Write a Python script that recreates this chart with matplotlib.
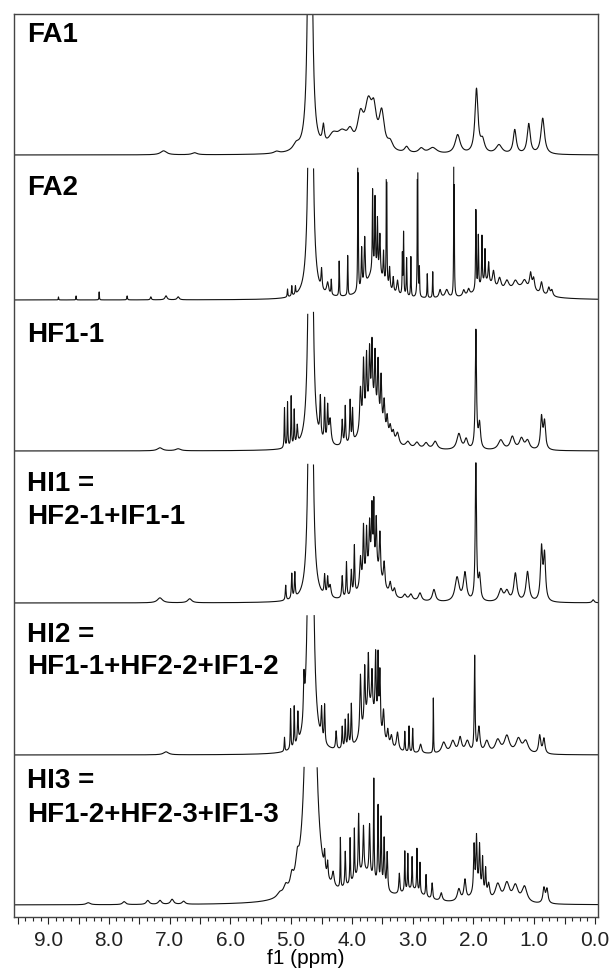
import numpy as np
import matplotlib
matplotlib.use("Agg")
import matplotlib.pyplot as plt
from matplotlib.ticker import MultipleLocator, FuncFormatter

# ---------------- data: peak lists (ppm, height in px, half-width in ppm) ----------------
labels = ["FA1", "FA2", "HF1-1", "HI1 =\nHF2-1+IF1-1",
          "HI2 =\nHF1-1+HF2-2+IF1-2", "HI3 =\nHF1-2+HF2-3+IF1-3"]

fa1_ppm = [7.10, 6.59, 5.24, 4.92, 4.69, 4.47, 4.31, 4.16, 4.03, 3.86, 3.73, 3.64, 3.51, 3.37,
           3.10, 2.86, 2.67, 2.26, 1.95, 1.85, 1.58, 1.32, 1.09, 0.86]
fa1_h = [4, 2, 2, 6, 900, 18, 14, 15, 14, 30, 42, 32, 36, 8,
         6, 5, 6, 19, 64, 12, 9, 24, 30, 36]
fa1_w = [0.06, 0.05, 0.05, 0.06, 0.02, 0.02, 0.10, 0.10, 0.06, 0.06, 0.07, 0.05, 0.05, 0.05,
         0.04, 0.05, 0.08, 0.05, 0.03, 0.04, 0.06, 0.03, 0.03, 0.035]

fa2_ppm = [8.83, 8.54, 8.16, 7.70, 7.31, 7.06, 6.86, 5.06, 4.99, 4.93, 4.68, 4.50, 4.40, 4.34,
           4.21, 4.07, 3.90, 3.84, 3.79, 3.66, 3.62, 3.58, 3.54, 3.48, 3.43, 3.38, 3.32, 3.25,
           3.17, 3.15, 3.10, 3.03, 2.92, 2.89, 2.76, 2.67, 2.55, 2.44, 2.32, 2.16, 2.08, 1.96,
           1.92, 1.86, 1.81, 1.75, 1.67, 1.57, 1.45, 1.31, 1.16, 1.06, 1.01, 0.88, 0.76, 0.71,
           3.62, 1.80, 1.20]
fa2_h = [3, 4, 8, 4, 3, 4, 3, 8, 10, 8, 900, 20, 12, 15,
         35, 40, 400, 40, 48, 80, 70, 50, 40, 30, 400, 22, 15, 14,
         40, 62, 38, 40, 400, 28, 24, 26, 8, 8, 400, 6, 6, 80,
         52, 48, 32, 20, 16, 12, 10, 8, 8, 16, 12, 12, 8, 6,
         30, 15, 10]
fa2_w = [0.004, 0.004, 0.004, 0.006, 0.01, 0.02, 0.02, 0.006, 0.006, 0.006, 0.02, 0.01, 0.02, 0.006,
         0.005, 0.005, 0.003, 0.008, 0.01, 0.006, 0.006, 0.006, 0.01, 0.008, 0.003, 0.01, 0.01, 0.015,
         0.005, 0.005, 0.006, 0.005, 0.003, 0.005, 0.005, 0.005, 0.02, 0.03, 0.003, 0.02, 0.02, 0.006,
         0.006, 0.006, 0.006, 0.01, 0.02, 0.03, 0.04, 0.04, 0.04, 0.02, 0.02, 0.02, 0.02, 0.02,
         0.15, 0.15, 0.30]

hf11_ppm = [7.16, 6.86, 5.11, 5.06, 5.00, 4.95, 4.90, 4.68, 4.52, 4.45, 4.40, 4.36, 4.16, 4.11,
            4.03, 3.99, 3.86, 3.81, 3.76, 3.71, 3.67, 3.62, 3.57, 3.52, 3.47, 3.42, 3.37, 3.32,
            3.25, 3.08, 2.93, 2.78, 2.63, 2.24, 2.12, 1.96, 1.90, 1.55, 1.36, 1.21, 1.11, 0.88, 0.83,
            3.68]
hf11_h = [3, 2, 40, 45, 50, 35, 18, 900, 40, 42, 35, 25, 25, 38,
          42, 32, 42, 62, 58, 55, 60, 56, 58, 50, 32, 20, 14, 10,
          12, 6, 6, 6, 8, 16, 10, 118, 25, 10, 13, 11, 9, 32, 27,
          45]
hf11_w = [0.05, 0.05, 0.006, 0.006, 0.006, 0.006, 0.01, 0.02, 0.01, 0.008, 0.01, 0.02, 0.01, 0.008,
          0.008, 0.008, 0.015, 0.012, 0.01, 0.01, 0.01, 0.01, 0.012, 0.012, 0.015, 0.015, 0.02, 0.02,
          0.03, 0.04, 0.04, 0.04, 0.04, 0.04, 0.03, 0.012, 0.02, 0.05, 0.04, 0.04, 0.04, 0.02, 0.02,
          0.14]

hi1_ppm = [7.16, 6.67, 5.09, 4.99, 4.94, 4.68, 4.45, 4.40, 4.36, 4.16, 4.09, 4.01, 3.96, 3.86,
           3.81, 3.76, 3.71, 3.67, 3.64, 3.60, 3.54, 3.47, 3.37, 3.30, 3.13, 3.03, 2.88, 2.65,
           2.27, 2.14, 1.96, 1.90, 1.55, 1.45, 1.31, 1.11, 0.88, 0.83, 0.03,
           3.66]
hi1_h = [5, 4, 15, 25, 25, 900, 20, 18, 12, 22, 35, 25, 48, 30,
         55, 45, 42, 55, 56, 48, 45, 25, 12, 8, 5, 6, 8, 12,
         24, 28, 140, 24, 12, 10, 28, 30, 52, 45, 3,
         40]
hi1_w = [0.05, 0.04, 0.008, 0.008, 0.008, 0.02, 0.01, 0.01, 0.02, 0.01, 0.008, 0.01, 0.008, 0.015,
         0.01, 0.01, 0.01, 0.01, 0.006, 0.01, 0.012, 0.015, 0.02, 0.02, 0.03, 0.03, 0.03, 0.03,
         0.04, 0.03, 0.012, 0.02, 0.04, 0.04, 0.03, 0.03, 0.02, 0.02, 0.02,
         0.14]

hi2_ppm = [7.06, 5.11, 5.01, 4.95, 4.89, 4.79, 4.68, 4.50, 4.45, 4.26, 4.16, 4.11, 4.06, 4.01,
           3.86, 3.79, 3.73, 3.67, 3.61, 3.57, 3.54, 3.48, 3.41, 3.35, 3.25, 3.13, 3.06, 3.00,
           2.87, 2.66, 2.49, 2.34, 2.22, 2.10, 1.98, 1.91, 1.78, 1.60, 1.45, 1.26, 1.14, 0.91, 0.84,
           3.70]
hi2_h = [3, 14, 40, 40, 30, 40, 900, 30, 38, 18, 22, 28, 32, 42,
         60, 55, 55, 38, 68, 70, 60, 30, 15, 12, 18, 20, 26, 24,
         9, 55, 11, 12, 15, 12, 95, 25, 12, 13, 17, 14, 12, 18, 15,
         45]
hi2_w = [0.05, 0.006, 0.006, 0.006, 0.008, 0.01, 0.025, 0.01, 0.008, 0.01, 0.008, 0.008, 0.008, 0.008,
         0.012, 0.01, 0.01, 0.01, 0.01, 0.008, 0.01, 0.015, 0.015, 0.02, 0.02, 0.006, 0.006, 0.006,
         0.02, 0.004, 0.04, 0.04, 0.03, 0.04, 0.008, 0.02, 0.04, 0.05, 0.05, 0.05, 0.05, 0.02, 0.02,
         0.13]

hi3_ppm = [8.34, 7.75, 7.36, 7.16, 6.96, 6.77, 5.19, 5.09, 4.99, 4.90, 4.68, 4.45, 4.40, 4.31,
           4.19, 4.11, 4.03, 3.96, 3.89, 3.81, 3.71, 3.64, 3.57, 3.52, 3.47, 3.42, 3.22, 3.13,
           3.08, 3.01, 2.93, 2.88, 2.78, 2.68, 2.53, 2.24, 2.14, 1.99, 1.95, 1.90, 1.85, 1.80,
           1.75, 1.60, 1.45, 1.31, 1.16, 0.84, 0.79,
           3.80, 3.00, 1.93]
hi3_h = [2, 3, 4, 4, 5, 3, 4, 8, 12, 18, 900, 18, 16, 14,
         50, 35, 45, 50, 60, 45, 50, 100, 78, 68, 50, 38, 20, 40,
         36, 32, 42, 30, 22, 16, 8, 12, 20, 45, 50, 42, 34, 26,
         14, 17, 18, 16, 16, 15, 14,
         30, 12, 15]
hi3_w = [0.04, 0.03, 0.03, 0.03, 0.03, 0.03, 0.05, 0.04, 0.03, 0.03, 0.045, 0.01, 0.01, 0.02,
         0.005, 0.008, 0.006, 0.006, 0.008, 0.01, 0.01, 0.006, 0.008, 0.008, 0.01, 0.01, 0.01, 0.006,
         0.006, 0.006, 0.006, 0.006, 0.008, 0.01, 0.02, 0.03, 0.02, 0.01, 0.01, 0.01, 0.01, 0.01,
         0.02, 0.05, 0.05, 0.05, 0.05, 0.02, 0.02,
         0.25, 0.20, 0.10]

spectra = [(fa1_ppm, fa1_h, fa1_w), (fa2_ppm, fa2_h, fa2_w), (hf11_ppm, hf11_h, hf11_w),
           (hi1_ppm, hi1_h, hi1_w), (hi2_ppm, hi2_h, hi2_w), (hi3_ppm, hi3_h, hi3_w)]

tick_labels = ["9.0", "8.0", "7.0", "6.0", "5.0", "4.0", "3.0", "2.0", "1.0", "0.0"]

# ---------------- layout (pixel space of a 609x969 image) ----------------
W, H = 609, 969
top_px, bot_px = 14, 917
left_px, right_px = 13.5, 598
baselines = [155, 300, 451, 603, 755, 905]
label_y = [35, 188, 335, 500, 651, 798]

plt.rcParams['font.family'] = ['Liberation Sans', 'DejaVu Sans']

fig = plt.figure(figsize=(W / 100, H / 100), dpi=100)
ax = fig.add_axes([left_px / W, 1 - bot_px / H, (right_px - left_px) / W, (bot_px - top_px) / H])

ppm = np.linspace(9.57, -0.05, 20000)
for i, (pc, ph, pw) in enumerate(spectra):
    inten = np.zeros_like(ppm)
    for c, h, w in zip(pc, ph, pw):
        inten += h / (1 + ((ppm - c) / w) ** 2)
    y = baselines[i] - inten
    clip = top_px if i == 0 else baselines[i - 1] + 12
    y = np.where(y < clip, np.nan, y)
    ax.plot(ppm, y, color='#111111', lw=0.8)
    fig.text(27 / W, 1 - label_y[i] / H, labels[i], fontsize=20, fontweight='bold',
             ha='left', va='center', linespacing=1.35)

ax.set_xlim(9.57, -0.05)
ax.set_ylim(bot_px, top_px)
ax.set_yticks([])
ax.xaxis.set_major_locator(MultipleLocator(0.5))
ax.xaxis.set_minor_locator(MultipleLocator(0.125))
lab_map = {float(t): t for t in tick_labels}
ax.xaxis.set_major_formatter(FuncFormatter(
    lambda v, p: lab_map.get(round(v, 1), "") if abs(v - round(v)) < 1e-6 else ""))
ax.tick_params(axis='x', which='major', length=5, width=0.8, labelsize=15, pad=5, colors='#222222')
ax.tick_params(axis='x', which='minor', length=3, width=0.8, colors='#222222')
for s in ax.spines.values():
    s.set_color('#444444')
    s.set_linewidth(1.0)
ax.set_xlabel("f1 (ppm)", fontsize=15, labelpad=-1)

fig.savefig("out.png", dpi=100)
